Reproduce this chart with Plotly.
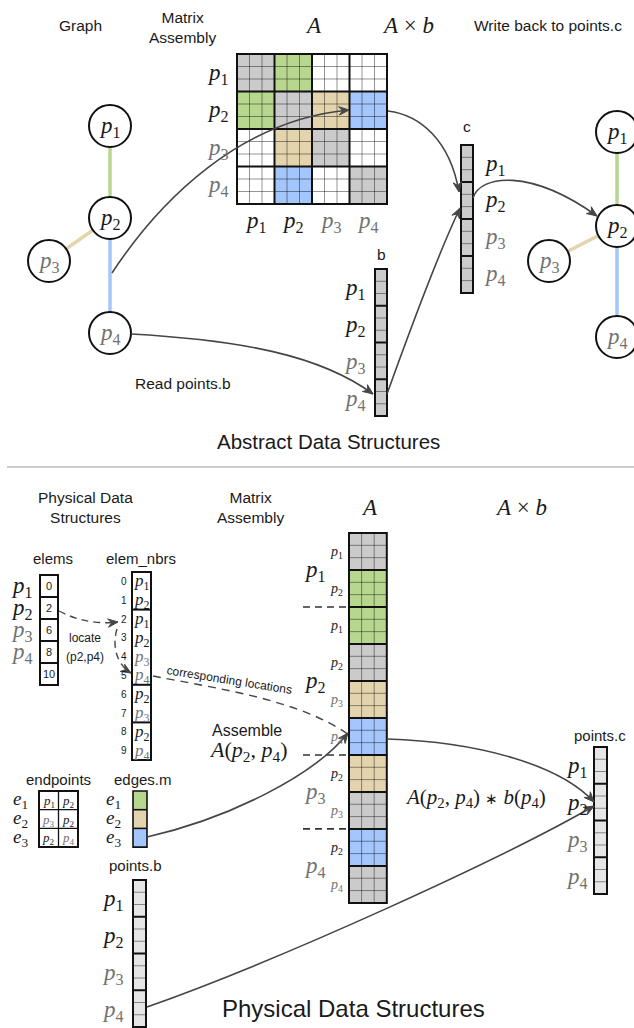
import math
import plotly.graph_objects as go

W, H = 634, 1028

# ---------------- data ----------------
points = ["p1", "p2", "p3", "p4"]
graph_edges = [("p1", "p2", "green"), ("p2", "p3", "tan"), ("p2", "p4", "blue")]
matrix_blocks = [
    ["gray", "green", "white", "white"],
    ["green", "gray", "tan", "blue"],
    ["white", "tan", "gray", "white"],
    ["white", "blue", "white", "gray"],
]
A_row_groups = ["p1", "p2", "p3", "p4"]
A_group_sizes = [2, 4, 2, 2]
A_cols = ["p1", "p2", "p1", "p2", "p3", "p4", "p2", "p3", "p2", "p4"]
A_colors = ["gray", "green", "green", "gray", "tan", "blue", "tan", "gray", "blue", "gray"]
elems_offsets = [0, 2, 6, 8, 10]
elem_nbrs = ["p1", "p2", "p1", "p2", "p3", "p4", "p2", "p3", "p2", "p4"]
endpoints = [["p1", "p2"], ["p3", "p2"], ["p2", "p4"]]
edge_names = ["e1", "e2", "e3"]
edge_colors = ["green", "tan", "blue"]
cells_per_point = 3

# ---------------- style ----------------
PAL = dict(gray="#cbcbcb", green="#b7d68e", tan="#e4d4ae", blue="#a3c6fc",
           white="#ffffff", light="#e6e6e6")
SANS = "Liberation Sans, Arial, sans-serif"
SERIF = "Liberation Serif, Times New Roman, serif"
BLACK = "#1a1a1a"
GRAYTXT = "#727272"
ARROW = "#454545"
THIN = "rgba(0,0,0,0.42)"
PS = 23  # size of p labels

fig = go.Figure()
fig.add_trace(go.Scatter(x=[0, W], y=[0, H], mode="markers", marker=dict(opacity=0),
                         hoverinfo="skip", showlegend=False))
shapes = []


def P(name):
    return f"<i>{name[0]}</i><sub>{name[1:]}</sub>"


def pcol(name):
    return GRAYTXT if name in ("p3", "p4") else BLACK


def rect(x0, y0, x1, y1, fill=None, color=None, width=0):
    shapes.append(dict(type="rect", xref="x", yref="y", x0=x0, y0=y0, x1=x1, y1=y1,
                       fillcolor=fill or "rgba(0,0,0,0)",
                       line=dict(color=color or "rgba(0,0,0,0)", width=width)))


def line(x0, y0, x1, y1, color, width, dash=None):
    d = dict(color=color, width=width)
    if dash:
        d["dash"] = dash
    shapes.append(dict(type="line", xref="x", yref="y", x0=x0, y0=y0, x1=x1, y1=y1, line=d))


def circle(cx, cy, r):
    shapes.append(dict(type="circle", xref="x", yref="y", x0=cx - r, x1=cx + r, y0=cy - r, y1=cy + r,
                       fillcolor="white", line=dict(color="#111", width=2)))


def text(x, y, s, size=15, color=BLACK, family=SANS, angle=0, xanchor="center"):
    fig.add_annotation(x=x, y=y, xref="x", yref="y", text=s, showarrow=False,
                       font=dict(size=size, color=color, family=family),
                       xanchor=xanchor, yanchor="middle", textangle=angle)


def grid(x0, y0, cw, ch, nrows, ncols, row_breaks, col_breaks, fill_of, thin=True, tw=2):
    for bi in range(len(row_breaks) - 1):
        for bj in range(len(col_breaks) - 1):
            rect(x0 + col_breaks[bj] * cw, y0 + row_breaks[bi] * ch,
                 x0 + col_breaks[bj + 1] * cw, y0 + row_breaks[bi + 1] * ch, fill=fill_of(bi, bj))
    if thin:
        for c in range(1, ncols):
            if c not in col_breaks:
                line(x0 + c * cw, y0, x0 + c * cw, y0 + nrows * ch, THIN, 1)
        for r in range(1, nrows):
            if r not in row_breaks:
                line(x0, y0 + r * ch, x0 + ncols * cw, y0 + r * ch, THIN, 1)
    for c in col_breaks[1:-1]:
        line(x0 + c * cw, y0, x0 + c * cw, y0 + nrows * ch, "#111", tw)
    for r in row_breaks[1:-1]:
        line(x0, y0 + r * ch, x0 + ncols * cw, y0 + r * ch, "#111", tw)
    rect(x0, y0, x0 + ncols * cw, y0 + nrows * ch, color="#111", width=tw)


def arrowhead(tip, frm, L=10, w=4.2):
    dx, dy = tip[0] - frm[0], tip[1] - frm[1]
    n = math.hypot(dx, dy)
    ux, uy = dx / n, dy / n
    nx, ny = -uy, ux
    bx, by = tip[0] - ux * L, tip[1] - uy * L
    mx, my = tip[0] - ux * L * 0.65, tip[1] - uy * L * 0.65
    path = (f"M{tip[0]},{tip[1]} L{bx + nx * w},{by + ny * w} L{mx},{my} "
            f"L{bx - nx * w},{by - ny * w} Z")
    shapes.append(dict(type="path", xref="x", yref="y", path=path, fillcolor=ARROW,
                       line=dict(color=ARROW, width=1)))


def curve(p0, c1, c2, p3, dash=None, head=True, width=1.6):
    d = dict(color=ARROW, width=width)
    if dash:
        d["dash"] = dash
    shapes.append(dict(type="path", xref="x", yref="y", line=d,
                       path=f"M{p0[0]},{p0[1]} C{c1[0]},{c1[1]} {c2[0]},{c2[1]} {p3[0]},{p3[1]}"))
    if head:
        arrowhead(p3, c2)


def vec_breaks(n_points):
    return [i * cells_per_point for i in range(n_points + 1)]


# ================= TOP: abstract =================
text(80, 25, "Graph", 15.5)
text(182, 27, "Matrix<br>Assembly", 15.5)
text(313, 25, "<i>A</i>", 23, family=SERIF)
text(408, 25, "<i>A</i> × <i>b</i>", 23, family=SERIF)
text(548, 25, "Write back to points.c", 15.5)


def draw_graph(pos):
    for a, b, c in graph_edges:
        line(pos[a][0], pos[a][1], pos[b][0], pos[b][1], PAL[c], 3.5)
    for p in points:
        circle(pos[p][0], pos[p][1], 21)
        text(pos[p][0], pos[p][1] + 1, P(p), PS, pcol(p), SERIF)


left_pos = {"p1": (110, 126), "p2": (110, 218), "p3": (49, 261), "p4": (110, 333)}
right_pos = {"p1": (617, 132), "p2": (617, 226), "p3": (549, 261), "p4": (617, 337)}
draw_graph(left_pos)
draw_graph(right_pos)

# matrix A
mx, my, mc = 237, 54, 12.5
nb = len(points) * cells_per_point
grid(mx, my, mc, mc, nb, nb, vec_breaks(4), vec_breaks(4), lambda i, j: PAL[matrix_blocks[i][j]])
for i, p in enumerate(points):
    text(mx - 19, my + (i + 0.5) * mc * 3 + 1, P(p), PS, pcol(p), SERIF)
    text(mx + (i + 0.5) * mc * 3, my + nb * mc + 18, P(p), PS, pcol(p), SERIF)

# vector b
bx, by, bch = 375, 269, 12.25
grid(bx, by, 12, bch, nb, 1, vec_breaks(4), [0, 1], lambda i, j: PAL["gray"])
text(bx + 6, by - 15, "b", 15.5)
for i, p in enumerate(points):
    text(bx - 20, by + (i * 3 + 1.5) * bch + 2, P(p), PS, pcol(p), SERIF)

# vector c
cx, cy, cch = 461, 145, 12.33
grid(cx, cy, 12, cch, nb, 1, vec_breaks(4), [0, 1], lambda i, j: PAL["gray"])
text(cx + 6, cy - 19, "c", 15.5)
for i, p in enumerate(points):
    text(cx + 34, cy + (i * 3 + 1.5) * cch + 1, P(p), PS, pcol(p), SERIF)

text(183, 383, "Read points.b", 15.5)
text(328, 441, "Abstract Data Structures", 20.5)

# top arrows
curve((112, 273), (160, 200), (240, 120), (349, 110))
curve((131, 334), (240, 340), (320, 355), (373, 394))
curve((387, 394), (410, 330), (440, 250), (460, 208))
curve((388, 111), (420, 115), (450, 140), (459, 192))
curve((473, 198), (480, 175), (530, 168), (597, 216))

# separator
line(7, 467, 634, 467, "#bdbdbd", 1.5)

# ================= BOTTOM: physical =================
text(85, 507, "Physical Data<br>Structures", 15.5)
text(250, 507, "Matrix<br>Assembly", 15.5)
text(369, 507, "<i>A</i>", 23, family=SERIF)
text(521, 507, "<i>A</i> × <i>b</i>", 23, family=SERIF)

# elems
ex, ey, eh = 40, 575, 22
text(53, 558, "elems", 15)
for k, v in enumerate(elems_offsets):
    rect(ex, ey + k * eh, ex + 18, ey + (k + 1) * eh, fill="white", color="#111", width=2)
    text(ex + 9, ey + (k + 0.5) * eh, str(v), 11)
for k, p in enumerate(points):
    text(22, ey + (k + 0.5) * eh + 1, P(p), 23, pcol(p), SERIF)

# elem_nbrs
nx, ny, nh = 132, 572, 18.8
text(141, 558, "elem_nbrs", 15)
grid(nx, ny, 19, nh, len(elem_nbrs), 1, elems_offsets, [0, 1], lambda i, j: "white", thin=False)
for k, p in enumerate(elem_nbrs):
    text(nx + 9.5, ny + (k + 0.5) * nh + 1, P(p), 17, pcol(p), SERIF)
    text(nx - 8, ny + (k + 0.5) * nh, str(k), 10)

text(85, 638, "locate", 12)
text(85, 657, "(p2,p4)", 12)
curve((59, 611), (80, 622), (100, 624), (118, 622), dash="7px,5px", width=1.4)
curve((117, 629), (112, 645), (116, 664), (131, 673), dash="7px,5px", width=1.4)
curve((153, 676), (220, 689), (300, 700), (349, 735), dash="8px,6px", head=False, width=1.4)
text(229, 680, "corresponding locations", 12, angle=9)

text(247, 730, "Assemble", 16)
text(248, 751, "<i>A</i>(<i>p</i><sub>2</sub>, <i>p</i><sub>4</sub>)", 22, family=SERIF)

# A vector
ax_, ay_, acw, ach = 349, 533, 12.6, 12.33
nA = len(A_colors) * cells_per_point
grid(ax_, ay_, acw, ach, nA, 3, vec_breaks(len(A_colors)), [0, 3], lambda i, j: PAL[A_colors[i]])
for k, p in enumerate(A_cols):
    text(ax_ - 13, ay_ + (k + 0.5) * 3 * ach + 1, P(p), 14, pcol(p), SERIF)
start = 0
for g, sz in zip(A_row_groups, A_group_sizes):
    yc = ay_ + (start + sz / 2) * 3 * ach
    text(315, yc + 1, P(g), PS, pcol(g), SERIF)
    if start > 0:
        line(303, ay_ + start * 3 * ach, ax_, ay_ + start * 3 * ach, "#333", 1.6, dash="7px,5px")
    start += sz

# endpoints table
tx, ty, tcw, tch = 39, 791, 19.5, 18.7
text(58, 779, "endpoints", 15)
grid(tx, ty, tcw, tch, 3, 2, [0, 3], [0, 2], lambda i, j: "white", thin=False)
for r in range(1, 3):
    line(tx, ty + r * tch, tx + 2 * tcw, ty + r * tch, "#111", 1.3)
line(tx + tcw, ty, tx + tcw, ty + 3 * tch, "#111", 1.3)
for r, row in enumerate(endpoints):
    text(20, ty + (r + 0.5) * tch, P(edge_names[r]), 19, BLACK, SERIF)
    for c, p in enumerate(row):
        text(tx + (c + 0.5) * tcw, ty + (r + 0.5) * tch + 1, P(p), 13, pcol(p), SERIF)

# edges.m
mxx = 133
text(143, 779, "edges.m", 15)
grid(mxx, ty, 14, tch, 3, 1, [0, 1, 2, 3], [0, 1], lambda i, j: PAL[edge_colors[i]], tw=1.6)
for r, e in enumerate(edge_names):
    text(113, ty + (r + 0.5) * tch, P(e), 19, BLACK, SERIF)

# points.b
pbx, pby, pch = 133, 880, 12.25
text(135, 865, "points.b", 15)
grid(pbx, pby, 13, pch, nb, 1, vec_breaks(4), [0, 1], lambda i, j: PAL["light"])
for i, p in enumerate(points):
    text(pbx - 20, pby + (i * 3 + 1.5) * pch + 2, P(p), PS, pcol(p), SERIF)

# points.c
pcx, pcy = 594, 747
text(600, 735, "points.c", 15)
grid(pcx, pcy, 13, pch, nb, 1, vec_breaks(4), [0, 1], lambda i, j: PAL["light"])
for i, p in enumerate(points):
    text(pcx - 17, pcy + (i * 3 + 1.5) * pch + 2, P(p), PS, pcol(p), SERIF)

text(475, 798, "<i>A</i>(<i>p</i><sub>2</sub>, <i>p</i><sub>4</sub>) "
     "<span style='font-size:15px'>∗</span> <i>b</i>(<i>p</i><sub>4</sub>)", 21, family=SERIF)

# bottom arrows
curve((147, 837), (230, 818), (315, 775), (348, 733))
curve((387, 739), (480, 742), (560, 765), (594, 802))
curve((147, 1007), (280, 960), (500, 860), (594, 806))

text(353, 1008, "Physical Data Structures", 24)

fig.update_layout(
    width=W, height=H, margin=dict(l=0, r=0, t=0, b=0),
    paper_bgcolor="white", plot_bgcolor="white", showlegend=False,
    xaxis=dict(range=[0, W], visible=False, fixedrange=True),
    yaxis=dict(range=[H, 0], visible=False, fixedrange=True),
    shapes=shapes,
)
fig.write_html(
    "out.html",
    config=dict(displayModeBar=False),
    post_script=("document.body.style.margin='0';"
                 "document.documentElement.style.overflow='hidden';"
                 "document.body.style.overflow='hidden';"),
)
